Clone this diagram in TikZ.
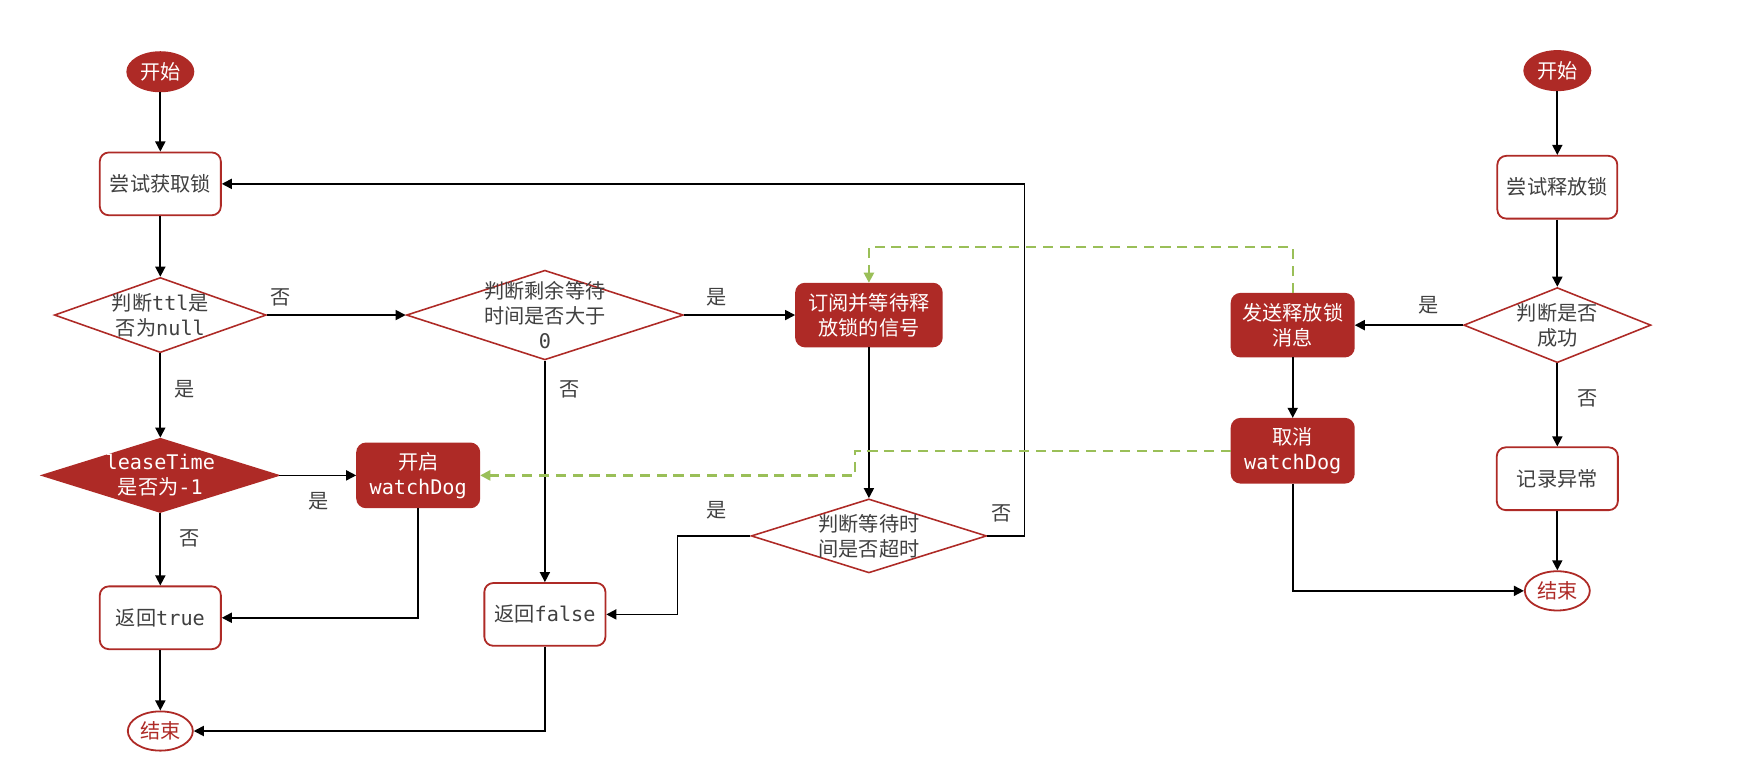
\documentclass[tikz,border=0pt]{standalone}
\usepackage{fontspec}
\setmainfont{Noto Sans CJK SC}
\newfontfamily\monof{DejaVu Sans Mono}
\usetikzlibrary{shapes.geometric,arrows.meta}
\definecolor{lockred}{HTML}{AE2A26}
\definecolor{dashgreen}{HTML}{9ABF58}
\definecolor{txtgray}{HTML}{404040}
\newcommand{\code}[1]{{\monof #1}}

\begin{document}
\begin{tikzpicture}[x=1pt,y=-1pt,
  font=\fontsize{18pt}{22.5pt}\selectfont,
  base/.style={inner sep=0pt, align=center, line width=1.6pt},
  procbox/.style={base, rectangle, rounded corners=8pt, draw=lockred, fill=white,
    text=txtgray, minimum width=108pt, minimum height=56pt},
  actbox/.style={procbox, fill=lockred, text=white},
  decision/.style={base, diamond, draw=lockred, fill=white, line width=1.4pt},
  dtext/.style={inner sep=0pt, align=center, text=txtgray},
  dtextw/.style={dtext, text=white},
  terminal/.style={base, ellipse, draw=lockred, minimum width=59pt, minimum height=35pt},
  flow/.style={line width=1.5pt, black, -{Triangle[length=9pt,width=9pt]}},
  signal/.style={line width=2pt, dashgreen, dash pattern=on 9pt off 6pt,
    -{Triangle[length=9pt,width=9pt]}},
  tag/.style={text=txtgray, inner sep=0pt}
]
\useasboundingbox (0,0) rectangle (1568,698);

% ---- lock acquisition ----
\node[terminal, fill=lockred, text=white] (start1) at (143,64) {开始};
\node[procbox] (acq) at (143,164) {尝试获取锁};
\node[decision, minimum width=189pt, minimum height=67pt,
  label={[dtext]center:判断\code{ttl}是\\否为\code{null}}] (ttl) at (143,281) {};
\node[decision, minimum width=247pt, minimum height=80pt,
  label={[dtext]center:判断剩余等待\\时间是否大于\\\code{0}}] (remain) at (486,281) {};
\node[actbox, minimum width=130pt] (sub) at (775,281) {订阅并等待释\\放锁的信号};
\node[decision, fill=lockred, minimum width=211pt, minimum height=66pt,
  label={[dtextw]center:\code{leaseTime}\\是否为\code{-1}}] (lease) at (143,424) {};
\node[actbox, minimum width=109pt, minimum height=57pt] (wdon) at (373,424) {开启\\\code{watchDog}};
\node[procbox] (rtrue) at (143,551) {返回\code{true}};
\node[procbox] (rfalse) at (486,548) {返回\code{false}};
\node[decision, minimum width=210pt, minimum height=66pt,
  label={[dtext]center:判断等待时\\间是否超时}] (timeout) at (775,478) {};
\node[terminal, fill=white, text=lockred, minimum width=58pt] (end1) at (143,652) {结束};

\draw[flow] (start1) -- (acq);
\draw[flow] (acq) -- (ttl);
\draw[flow] (ttl) -- (remain);
\draw[flow] (ttl) -- (lease);
\draw[flow] (remain) -- (sub);
\draw[flow] (remain) -- (rfalse);
\draw[flow] (sub) -- (timeout);
\draw[flow] (lease) -- (wdon);
\draw[flow] (lease) -- (rtrue);
\draw[flow] (rtrue) -- (end1);
\draw[flow] (wdon.south) |- (rtrue.east);
\draw[flow] (rfalse.south) |- (end1.east);
\draw[flow] (timeout.west) -- ++(-65,0) |- (rfalse.east);
\draw[flow] (timeout.east) -- ++(33,0) |- (acq.east);

\node[tag] at (250,265) {否};
\node[tag] at (639,265) {是};
\node[tag] at (165,347) {是};
\node[tag] at (508,347) {否};
\node[tag] at (284,447) {是};
\node[tag] at (169,480) {否};
\node[tag] at (639,455) {是};
\node[tag] at (893,458) {否};

% ---- lock release ----
\node[terminal, fill=lockred, text=white] (start2) at (1389,63) {开始};
\node[procbox, minimum width=107pt] (rel) at (1389,167) {尝试释放锁};
\node[decision, minimum width=167pt, minimum height=67pt,
  label={[dtext]center:判断是否\\成功}] (ok) at (1389,290) {};
\node[actbox, minimum width=109pt] (send) at (1153,290) {发送释放锁\\消息};
\node[actbox, minimum width=109pt, minimum height=57pt] (cancel) at (1153,402) {取消\\\code{watchDog}};
\node[procbox] (log) at (1389,427) {记录异常};
\node[terminal, fill=white, text=lockred, minimum width=58pt] (end2) at (1389,527) {结束};

\draw[flow] (start2) -- (rel);
\draw[flow] (rel) -- (ok);
\draw[flow] (ok) -- (send);
\draw[flow] (ok) -- (log);
\draw[flow] (send) -- (cancel);
\draw[flow] (log) -- (end2);
\draw[flow] (cancel.south) |- (end2.west);

\node[tag] at (1274,272) {是};
\node[tag] at (1416,355) {否};

% ---- release signals ----
\draw[signal] (send.north) -- ++(0,-41) -| (sub.north);
\draw[signal] (cancel.west) -- ++(-335,0) |- (wdon.east);
\end{tikzpicture}
\end{document}
